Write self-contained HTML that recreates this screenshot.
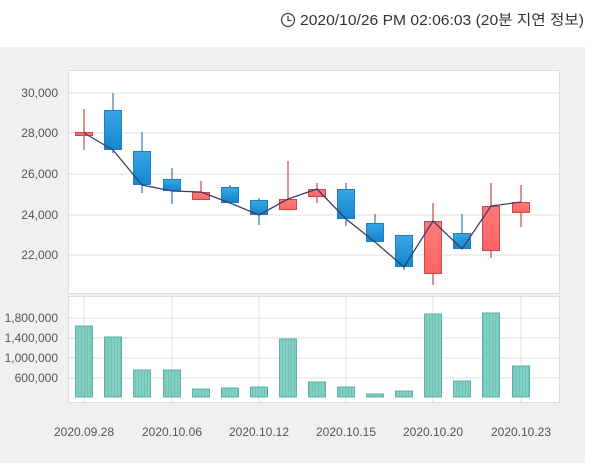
<!DOCTYPE html>
<html><head><meta charset="utf-8"><style>
body{margin:0;width:600px;height:466px;background:#fff;overflow:hidden;font-family:"Liberation Sans","Noto Sans CJK KR",sans-serif}
</style></head><body>
<svg width="600" height="466" xmlns="http://www.w3.org/2000/svg" font-family="Liberation Sans, Noto Sans CJK KR, sans-serif">
<defs>
<linearGradient id="b" x1="0" y1="0" x2="0" y2="1"><stop offset="0" stop-color="#3aa6e4"/><stop offset="1" stop-color="#1286d0"/></linearGradient>
<linearGradient id="r" x1="0" y1="0" x2="0" y2="1"><stop offset="0" stop-color="#ff7b7b"/><stop offset="1" stop-color="#ff6464"/></linearGradient>
<pattern id="s" width="3" height="4" patternUnits="userSpaceOnUse"><rect width="3" height="4" fill="#80d0c5"/><rect width="1" height="4" fill="#72c2b6"/></pattern>
</defs>
<circle cx="288" cy="20" r="6.5" fill="none" stroke="#444" stroke-width="1.3"/>
<path d="M288 16v4.5h3.5" fill="none" stroke="#444" stroke-width="1.3"/>
<text x="300" y="25" font-size="14.5" fill="#333" textLength="284" lengthAdjust="spacingAndGlyphs">2020/10/26 PM 02:06:03 (20분 지연 정보)</text>
<rect x="0" y="47" width="585" height="416" fill="#f0f0f0"/>
<rect x="68.5" y="70.5" width="491" height="223" fill="#fff" stroke="#ddd"/>
<rect x="68.5" y="296.5" width="491" height="106" fill="#fff" stroke="#ddd"/>
<g stroke="#e2e2e2">
<line x1="69" x2="559" y1="93" y2="93"/><line x1="69" x2="559" y1="133" y2="133"/><line x1="69" x2="559" y1="174" y2="174"/><line x1="69" x2="559" y1="215" y2="215"/><line x1="69" x2="559" y1="255" y2="255"/>
<line x1="69" x2="559" y1="318" y2="318"/><line x1="69" x2="559" y1="338" y2="338"/><line x1="69" x2="559" y1="358" y2="358"/><line x1="69" x2="559" y1="378" y2="378"/>
<line x1="84" x2="84" y1="297" y2="402"/><line x1="172" x2="172" y1="297" y2="402"/><line x1="259" x2="259" y1="297" y2="402"/><line x1="346" x2="346" y1="297" y2="402"/><line x1="433" x2="433" y1="297" y2="402"/><line x1="521" x2="521" y1="297" y2="402"/>
</g>
<g font-size="12" fill="#555" text-anchor="end">
<text x="58" y="97">30,000</text><text x="58" y="137">28,000</text><text x="58" y="178">26,000</text><text x="58" y="219">24,000</text><text x="58" y="259">22,000</text>
<text x="58" y="322">1,800,000</text><text x="58" y="342">1,400,000</text><text x="58" y="362">1,000,000</text><text x="58" y="382">600,000</text>
</g>
<g font-size="12" fill="#555" text-anchor="middle">
<text x="84" y="436">2020.09.28</text><text x="172" y="436">2020.10.06</text><text x="259" y="436">2020.10.12</text><text x="346" y="436">2020.10.15</text><text x="433" y="436">2020.10.20</text><text x="521" y="436">2020.10.23</text>
</g>
<g fill="url(#s)" stroke="#5fb0a6">
<rect x="75.5" y="326" width="17" height="71"/><rect x="104.5" y="337" width="17" height="60"/><rect x="133.5" y="370" width="17" height="27"/><rect x="163.5" y="370" width="17" height="27"/><rect x="192.5" y="389" width="17" height="8"/><rect x="221.5" y="388" width="17" height="9"/><rect x="250.5" y="387" width="17" height="10"/><rect x="279.5" y="339" width="17" height="58"/><rect x="308.5" y="382" width="17" height="15"/><rect x="337.5" y="387" width="17" height="10"/><rect x="366.5" y="394" width="17" height="3"/><rect x="395.5" y="391" width="17" height="6"/><rect x="424.5" y="314" width="17" height="83"/><rect x="453.5" y="381" width="17" height="16"/><rect x="482.5" y="313" width="17" height="84"/><rect x="512.5" y="366" width="17" height="31"/>
</g>
<g stroke-width="1.2">
<g stroke="#c94848"><line x1="84" x2="84" y1="109" y2="150"/><line x1="201" x2="201" y1="181" y2="200"/><line x1="288" x2="288" y1="161" y2="210"/><line x1="317" x2="317" y1="183" y2="203"/><line x1="433" x2="433" y1="203" y2="285"/><line x1="491" x2="491" y1="183" y2="258"/><line x1="521" x2="521" y1="185" y2="227"/></g>
<g stroke="#2a7fb8"><line x1="113" x2="113" y1="93" y2="153"/><line x1="142" x2="142" y1="132" y2="193"/><line x1="172" x2="172" y1="168" y2="204"/><line x1="230" x2="230" y1="185" y2="203"/><line x1="259" x2="259" y1="198" y2="225"/><line x1="346" x2="346" y1="183" y2="226"/><line x1="375" x2="375" y1="214" y2="242"/><line x1="404" x2="404" y1="235" y2="270"/><line x1="462" x2="462" y1="214" y2="249"/></g>
</g>
<g fill="url(#r)" stroke="#c94848">
<rect x="75.5" y="132.5" width="17" height="3"/><rect x="192.5" y="192.5" width="17" height="7"/><rect x="279.5" y="199.5" width="17" height="10"/><rect x="308.5" y="189.5" width="17" height="7"/><rect x="424.5" y="221.5" width="17" height="52"/><rect x="482.5" y="206.5" width="17" height="44"/><rect x="512.5" y="202.5" width="17" height="10"/>
</g>
<g fill="url(#b)" stroke="#1f7dbd">
<rect x="104.5" y="110.5" width="17" height="39"/><rect x="133.5" y="151.5" width="17" height="33"/><rect x="163.5" y="179.5" width="17" height="11"/><rect x="221.5" y="187.5" width="17" height="15"/><rect x="250.5" y="200.5" width="17" height="14"/><rect x="337.5" y="189.5" width="17" height="29"/><rect x="366.5" y="223.5" width="17" height="18"/><rect x="395.5" y="235.5" width="17" height="31"/><rect x="453.5" y="233.5" width="17" height="15"/>
</g>
<polyline fill="none" stroke="#3d3f66" stroke-width="1.3" points="84,133 113,150 142,185 172,191 201,192 230,203 259,215 288,199 317,189 346,219 375,242 404,267 433,221 462,249 491,206 521,202"/>
</svg>
</body></html>
